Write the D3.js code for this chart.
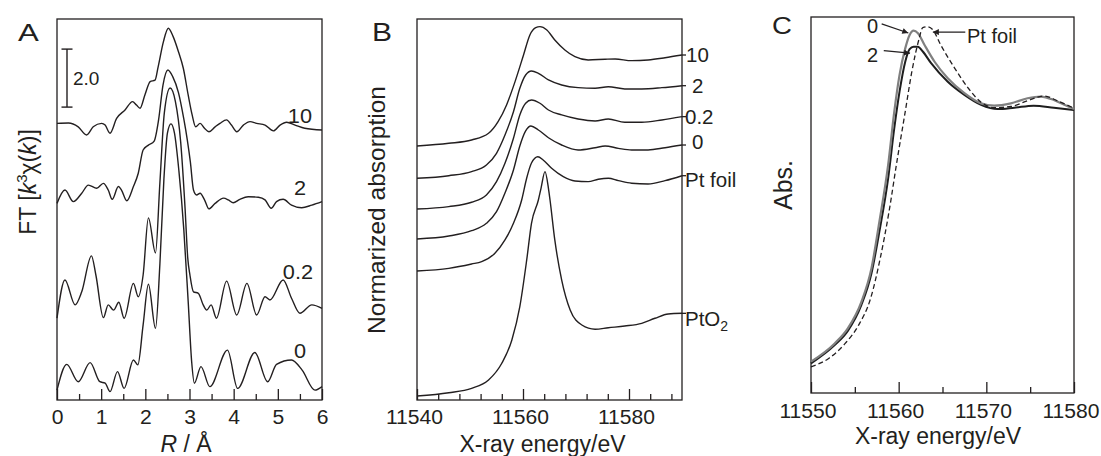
<!DOCTYPE html>
<html>
<head>
<meta charset="utf-8">
<script src="https://cdn.jsdelivr.net/npm/d3@7"></script>
<style>
  html, body { margin: 0; padding: 0; background: #fff; }
  svg { display: block; font-family: "Liberation Sans", Arial, Helvetica, sans-serif; }
</style>
</head>
<body>
<svg id="fig" width="1101" height="456"></svg>
<script>
// ---------------- Panel A: Fourier transforms, stacked (R in Å, FT magnitude + offset) ----------------
const ftLabels = ["10", "2", "0.2", "0"];
const ft10 = [[0.00,9.54],[0.26,9.55],[0.48,9.42],[0.67,9.14],[0.82,9.42],[1.01,9.54],[1.09,9.48],[1.20,9.20],[1.35,9.71],[1.54,10.00],[1.71,10.29],[1.80,10.17],[1.88,10.06],[1.99,10.52],[2.11,10.98],[2.22,11.03],[2.29,11.49],[2.41,12.36],[2.52,12.82],[2.63,12.53],[2.75,12.01],[2.86,11.44],[2.97,10.52],[3.06,9.83],[3.14,9.42],[3.24,9.54],[3.34,9.37],[3.44,9.25],[3.58,9.42],[3.69,9.54],[3.84,9.66],[3.95,9.48],[4.07,9.25],[4.22,9.48],[4.37,9.60],[4.52,9.54],[4.71,9.48],[4.90,9.28],[5.05,9.48],[5.20,9.58],[5.39,9.48],[5.61,9.37],[6.00,9.31]];
const ft2 = [[0.00,6.78],[0.18,7.24],[0.37,6.84],[0.56,7.13],[0.71,7.41],[0.90,7.30],[1.05,7.47],[1.16,7.24],[1.25,6.92],[1.39,7.36],[1.46,7.24],[1.58,6.87],[1.73,7.36],[1.84,7.82],[1.95,8.62],[2.07,8.79],[2.20,8.93],[2.30,9.66],[2.40,10.86],[2.51,11.38],[2.62,11.15],[2.75,10.60],[2.87,9.70],[2.95,8.97],[3.02,8.20],[3.09,7.24],[3.16,7.07],[3.24,7.13],[3.34,6.90],[3.44,6.59],[3.58,6.78],[3.77,6.96],[3.88,6.90],[3.99,6.80],[4.14,6.92],[4.33,7.01],[4.56,6.99],[4.71,6.90],[4.85,6.61],[4.97,6.84],[5.12,6.92],[5.31,6.72],[5.54,6.63],[5.77,6.72],[6.00,6.84]];
const ft02 = [[0.00,2.82],[0.18,4.14],[0.41,3.28],[0.56,3.73],[0.78,4.97],[0.88,4.31],[1.05,2.84],[1.16,3.28],[1.28,3.10],[1.40,3.37],[1.52,2.82],[1.73,4.02],[1.84,3.56],[1.95,4.31],[2.07,6.28],[2.23,5.07],[2.33,7.50],[2.43,9.90],[2.56,10.76],[2.68,10.30],[2.80,8.90],[2.90,6.60],[2.96,4.90],[3.01,4.31],[3.09,3.73],[3.20,3.68],[3.31,3.28],[3.39,3.10],[3.49,3.28],[3.61,2.82],[3.84,4.10],[4.07,2.93],[4.30,4.02],[4.52,2.93],[4.71,3.56],[4.82,3.45],[5.12,4.14],[5.31,3.51],[5.50,2.99],[5.77,3.28],[6.00,3.16]];
const ft0 = [[0.00,0.34],[0.22,1.23],[0.48,0.63],[0.75,1.29],[0.97,0.63],[1.09,0.58],[1.20,0.29],[1.37,0.98],[1.52,0.40],[1.73,1.38],[1.83,1.21],[1.95,2.59],[2.07,3.99],[2.23,2.47],[2.33,4.70],[2.42,7.60],[2.50,9.20],[2.58,9.52],[2.66,9.20],[2.76,7.90],[2.87,5.90],[2.97,3.40],[3.05,1.30],[3.11,0.58],[3.26,1.15],[3.46,0.46],[3.86,1.72],[4.09,0.40],[4.48,1.64],[4.77,0.63],[4.97,1.23],[5.31,1.38],[5.55,1.03],[5.84,0.34],[6.00,0.46]];
const rMajorTicks = [0, 1, 2, 3, 4, 5, 6];
const rMinorTicks = [0.5, 1.5, 2.5, 3.5, 4.5, 5.5];
const ftScaleBar = 2.0;

// ---------------- Panel B: Pt L3-edge XANES, stacked (eV, normalized absorption + offset) ----------------
const xanesLabels = ["10", "2", "0.2", "0", "Pt foil", "PtO2"];
const xanes10 = [[11540,2.822],[11546,2.852],[11550.3,2.889],[11553.5,2.963],[11555.3,3.092],[11556.9,3.278],[11558.5,3.537],[11560.1,3.833],[11561.3,4.056],[11562.4,4.137],[11563.2,4.148],[11564.5,4.111],[11566,4.0],[11567.9,3.889],[11569.8,3.814],[11572.3,3.778],[11575.5,3.786],[11577.4,3.789],[11580.5,3.770],[11583.6,3.778],[11586.8,3.803],[11590,3.833]];
const xanes2 = [[11540,2.463],[11546,2.492],[11550.3,2.537],[11553.1,2.611],[11555,2.741],[11556.6,2.944],[11558.2,3.203],[11559.4,3.463],[11560.5,3.611],[11561.6,3.656],[11562.9,3.630],[11564.8,3.556],[11567.3,3.500],[11570.4,3.470],[11573.6,3.463],[11576.1,3.481],[11579.2,3.456],[11582.4,3.456],[11586.2,3.470],[11590,3.492]];
const xanes02 = [[11540,2.122],[11546,2.148],[11550.3,2.197],[11553.1,2.278],[11555,2.426],[11556.6,2.630],[11558.2,2.908],[11559.4,3.167],[11560.5,3.297],[11561.6,3.333],[11563.2,3.297],[11564.8,3.222],[11567.3,3.167],[11570.4,3.122],[11573.6,3.100],[11576.1,3.122],[11579.2,3.086],[11582.4,3.086],[11586.2,3.111],[11590,3.148]];
const xanes0 = [[11540,1.789],[11546,1.822],[11550.3,1.881],[11553.1,1.963],[11555,2.092],[11556.6,2.300],[11558.2,2.556],[11559.4,2.822],[11560.5,2.989],[11561.5,3.044],[11562.9,3.000],[11564.8,2.914],[11567.3,2.833],[11570.4,2.778],[11573.6,2.803],[11575.5,2.822],[11578,2.796],[11580.5,2.778],[11583.6,2.778],[11586.8,2.803],[11590,2.833]];
const xanesFoil = [[11540,1.433],[11546,1.463],[11550.3,1.511],[11552.2,1.537],[11554.7,1.630],[11556.6,1.778],[11558.2,1.963],[11559.75,2.222],[11560.7,2.467],[11561.6,2.633],[11562.8,2.703],[11563.8,2.667],[11565.4,2.574],[11567.6,2.481],[11569.8,2.433],[11572.3,2.426],[11574.2,2.452],[11576.1,2.463],[11578,2.437],[11580.5,2.408],[11583.6,2.400],[11586.8,2.437],[11590,2.492]];
const xanesPtO2 = [[11540,0.044],[11546,0.081],[11550.3,0.130],[11553.5,0.222],[11556,0.408],[11557.9,0.667],[11559.4,1.037],[11560.7,1.556],[11561.6,1.963],[11562.9,2.222],[11563.4,2.352],[11564.15,2.537],[11564.8,2.352],[11565.1,2.222],[11566,1.778],[11567.3,1.333],[11568.9,1.000],[11571.1,0.833],[11573.6,0.786],[11576.1,0.803],[11579.2,0.822],[11582.4,0.852],[11584.9,0.908],[11587.4,0.956],[11590,0.963]];
const eMajorTicksB = [11540, 11560, 11580];
const eMinorTicksB = [11544, 11548, 11552, 11556, 11564, 11568, 11572, 11576, 11584, 11588];

// ---------------- Panel C: edge region overlay (eV, absorption) ----------------
const edgeLabels = ["0", "2", "Pt foil"];
const edge0 = [[11550,0.110],[11552.7,0.174],[11554.2,0.227],[11555.75,0.320],[11556.9,0.438],[11557.8,0.601],[11558.8,0.800],[11559.5,0.987],[11560.1,1.116],[11560.75,1.209],[11561.25,1.256],[11561.7,1.271],[11562.2,1.262],[11562.95,1.221],[11564.1,1.162],[11565.6,1.104],[11567.5,1.052],[11569.4,1.016],[11570.9,1.008],[11572.8,1.016],[11574.7,1.034],[11576.2,1.040],[11577.7,1.028],[11578.9,1.011],[11580,0.996]];
const edge2 = [[11550,0.104],[11552.7,0.168],[11554.2,0.218],[11555.75,0.309],[11556.9,0.420],[11557.8,0.566],[11558.8,0.753],[11559.5,0.929],[11560.1,1.057],[11560.75,1.162],[11561.25,1.206],[11561.7,1.215],[11562.2,1.215],[11562.75,1.198],[11563.7,1.157],[11565.6,1.092],[11567.5,1.046],[11569.4,1.011],[11571.3,0.996],[11573.2,1.001],[11575.4,1.008],[11577.7,1.001],[11580,0.993]];
const edgeFoil = [[11550,0.092],[11552.05,0.122],[11553.9,0.174],[11555.45,0.239],[11556.8,0.332],[11557.9,0.473],[11558.9,0.636],[11559.8,0.812],[11560.75,0.987],[11561.5,1.127],[11562.3,1.239],[11562.75,1.282],[11563.3,1.285],[11563.9,1.274],[11564.8,1.221],[11566.4,1.139],[11567.95,1.069],[11569.4,1.020],[11570.9,1.001],[11572.8,1.005],[11574.7,1.025],[11576.6,1.042],[11578.1,1.025],[11580,0.999]];
const eMajorTicksC = [11550, 11560, 11570, 11580];
const eMinorTicksC = [11555, 11565, 11575];

// ---------------- drawing ----------------
const ink = "#231f20";
const svg = d3.select("#fig");

const xA = d3.scaleLinear().domain([0, 6]).range([57, 322]);
const yA = d3.scaleLinear().domain([0, 13.138]).range([400, 19]);
const xB = d3.scaleLinear().domain([11540, 11590]).range([417, 682]);
const yB = d3.scaleLinear().domain([0, 4.233]).range([400, 19]);
const xC = d3.scaleLinear().domain([11550, 11580]).range([811, 1074]);
const yC = d3.scaleLinear().domain([0, 1.319]).range([393, 17]);

function frame(x, y) {
  svg.append("rect")
    .attr("x", x.range()[0]).attr("y", y.range()[1])
    .attr("width", x.range()[1] - x.range()[0])
    .attr("height", y.range()[0] - y.range()[1])
    .attr("fill", "none").attr("stroke", ink).attr("stroke-width", 1.3);
}

// bottom axis with inward major and minor ticks
function bottomAxis(x, y, majors, minors, pad, dx) {
  const y0 = y.range()[0];
  const minor = svg.append("g").attr("transform", `translate(0,${y0})`)
    .call(d3.axisBottom(x).tickValues(minors).tickSize(-6).tickFormat(""));
  const major = svg.append("g").attr("transform", `translate(0,${y0})`)
    .call(d3.axisBottom(x).tickValues(majors).tickSize(-11).tickPadding(pad).tickFormat(d3.format("d")));
  [minor, major].forEach(g => {
    g.select(".domain").remove();
    g.attr("font-size", null).attr("font-family", null).attr("color", ink);
    g.selectAll("line").attr("stroke-width", 1.3);
    g.selectAll("text").attr("font-size", 20.5).attr("fill", ink)
      .attr("transform", `translate(${dx},0) scale(1.03,1)`);
  });
}

function label(txt, x, y, opts = {}) {
  return svg.append("text")
    .attr("transform", `translate(${x},${y}) scale(${opts.sx || 1},1)`)
    .attr("font-size", opts.size || 20.5)
    .attr("text-anchor", opts.anchor || "start")
    .attr("fill", ink)
    .text(txt);
}

const lineA = d3.line().x(d => xA(d[0])).y(d => yA(d[1])).curve(d3.curveMonotoneX);
const lineB = d3.line().x(d => xB(d[0])).y(d => yB(d[1])).curve(d3.curveMonotoneX);
const lineC = d3.line().x(d => xC(d[0])).y(d => yC(d[1])).curve(d3.curveMonotoneX);

// ----- Panel A -----
frame(xA, yA);
bottomAxis(xA, yA, rMajorTicks, rMinorTicks, 9, 0);
const ftSeries = [ft10, ft2, ft02, ft0];
ftSeries.forEach(s => {
  svg.append("path").attr("d", lineA(s)).attr("fill", "none")
    .attr("stroke", ink).attr("stroke-width", 1.4).attr("stroke-linejoin", "round");
});
const ftLabelPos = [[312, 123], [306, 195], [313, 279], [306, 358]];
ftLabels.forEach((l, i) => label(l, ftLabelPos[i][0], ftLabelPos[i][1], { anchor: "end", sx: 1.06 }));

// scale bar (2.0 units)
const sbX = 67, sbBase = 10.1;
svg.append("line").attr("x1", sbX).attr("x2", sbX)
  .attr("y1", yA(sbBase)).attr("y2", yA(sbBase + ftScaleBar))
  .attr("stroke", ink).attr("stroke-width", 1.4);
[sbBase, sbBase + ftScaleBar].forEach(v => {
  svg.append("line").attr("x1", sbX - 5.5).attr("x2", sbX + 5.5)
    .attr("y1", yA(v)).attr("y2", yA(v)).attr("stroke", ink).attr("stroke-width", 1.4);
});
label(ftScaleBar.toFixed(1), 73, 85, { size: 19 });

// axis titles
const tA = svg.append("text").attr("transform", "translate(186,452)")
  .attr("text-anchor", "middle").attr("font-size", 23).attr("fill", ink);
tA.append("tspan").attr("font-style", "italic").text("R");
tA.append("tspan").text(" / Å");

const yTitleA = svg.append("text").attr("transform", "translate(36,182) rotate(-90)")
  .attr("text-anchor", "middle").attr("font-size", 23).attr("fill", ink);
yTitleA.append("tspan").text("FT [");
yTitleA.append("tspan").attr("font-style", "italic").text("k");
yTitleA.append("tspan").attr("font-size", 15).attr("dy", -9).text("3");
yTitleA.append("tspan").attr("dy", 9).text("χ(");
yTitleA.append("tspan").attr("font-style", "italic").text("k");
yTitleA.append("tspan").text(")]");

label("A", 18, 41, { size: 24, sx: 1.3 });

// ----- Panel B -----
frame(xB, yB);
bottomAxis(xB, yB, eMajorTicksB, eMinorTicksB, 9, -3);
const xanesSeries = [xanes10, xanes2, xanes02, xanes0, xanesFoil, xanesPtO2];
const xanesLabelDx = [4, 10, 3, 10, 3, 3];
const xanesLabelDy = [0, 0, 0, -3, 4, 5];
xanesSeries.forEach((s, i) => {
  svg.append("path").attr("d", lineB(s)).attr("fill", "none")
    .attr("stroke", ink).attr("stroke-width", 1.4).attr("stroke-linejoin", "round");
  const last = s[s.length - 1];
  const yEnd = yB(last[1]);
  svg.append("line").attr("x1", xB(last[0])).attr("x2", xB(last[0]) + 4)
    .attr("y1", yEnd).attr("y2", yEnd).attr("stroke", ink).attr("stroke-width", 1.3);
  const t = svg.append("text")
    .attr("x", xB(last[0]) + xanesLabelDx[i]).attr("y", yEnd + xanesLabelDy[i])
    .attr("dy", "0.36em").attr("font-size", 20.5).attr("fill", ink);
  if (xanesLabels[i] === "PtO2") {
    t.append("tspan").text("PtO");
    t.append("tspan").attr("font-size", 14).attr("dy", 5).text("2");
  } else {
    t.text(xanesLabels[i]);
  }
});

svg.append("text").attr("transform", "translate(542.5,452)")
  .attr("text-anchor", "middle").attr("font-size", 23).attr("fill", ink)
  .text("X-ray energy/eV");
svg.append("text").attr("transform", "translate(385,210) rotate(-90)")
  .attr("text-anchor", "middle").attr("font-size", 24.5).attr("fill", ink)
  .text("Normarized absorption");
label("B", 372, 41, { size: 25, sx: 1.2 });

// ----- Panel C -----
frame(xC, yC);
bottomAxis(xC, yC, eMajorTicksC, eMinorTicksC, 10, -3.5);
svg.append("path").attr("d", lineC(edge2)).attr("fill", "none")
  .attr("stroke", "#1e1e1e").attr("stroke-width", 2).attr("stroke-linejoin", "round");
svg.append("path").attr("d", lineC(edge0)).attr("fill", "none")
  .attr("stroke", "#808080").attr("stroke-width", 2.2).attr("stroke-linejoin", "round");
svg.append("path").attr("d", lineC(edgeFoil)).attr("fill", "none")
  .attr("stroke", ink).attr("stroke-width", 1.3).attr("stroke-dasharray", "5,3");

// annotation arrows
const defs = svg.append("defs");
defs.append("marker").attr("id", "arrowHead").attr("viewBox", "0 0 10 10")
  .attr("refX", 10).attr("refY", 5).attr("markerWidth", 8).attr("markerHeight", 6)
  .attr("markerUnits", "userSpaceOnUse").attr("orient", "auto")
  .append("path").attr("d", "M0,0L10,5L0,10z").attr("fill", ink);

const arrows = [
  { text: edgeLabels[0], from: [11558.06, 1.295], to: [11561.1, 1.263], tx: 878, ty: 33, anchor: "end" },
  { text: edgeLabels[1], from: [11558.3, 1.201], to: [11561.3, 1.192], tx: 878, ty: 62, anchor: "end" },
  { text: edgeLabels[2], from: [11567.6, 1.266], to: [11563.9, 1.266], tx: 967, ty: 43, anchor: "start" }
];
arrows.forEach(a => {
  svg.append("line")
    .attr("x1", xC(a.from[0])).attr("y1", yC(a.from[1]))
    .attr("x2", xC(a.to[0])).attr("y2", yC(a.to[1]))
    .attr("stroke", ink).attr("stroke-width", 1.2).attr("marker-end", "url(#arrowHead)");
  label(a.text, a.tx, a.ty, { anchor: a.anchor, size: 20 });
});

svg.append("text").attr("transform", "translate(938,444)")
  .attr("text-anchor", "middle").attr("font-size", 23).attr("fill", ink)
  .text("X-ray energy/eV");
svg.append("text").attr("transform", "translate(792,185) rotate(-90)")
  .attr("text-anchor", "middle").attr("font-size", 25).attr("fill", ink)
  .text("Abs.");
label("C", 772, 34, { size: 23, sx: 1.2 });
</script>
</body>
</html>
